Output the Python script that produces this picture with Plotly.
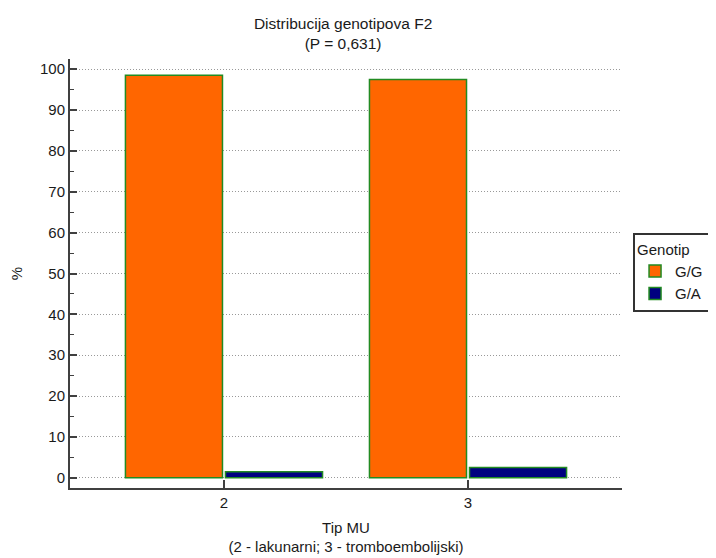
import plotly.graph_objects as go

categories = ["2", "3"]
gg_values = [98.5, 97.5]
ga_values = [1.5, 2.5]
series_names = ["G/G", "G/A"]
y_ticks = [0, 10, 20, 30, 40, 50, 60, 70, 80, 90, 100]

FONT = "Liberation Sans, Arial, sans-serif"
AXIS_COLOR = "#404040"
TXT = "#1a1a1a"
fig = go.Figure()
fig.add_trace(go.Bar(x=categories, y=gg_values, name=series_names[0],
                     marker=dict(color="#FF6600", line=dict(color="#228B22", width=1.5))))
fig.add_trace(go.Bar(x=categories, y=ga_values, name=series_names[1],
                     marker=dict(color="#000080", line=dict(color="#228B22", width=1.5))))

fig.update_layout(
    width=716, height=558,
    margin=dict(l=62, r=102, t=51, b=78, autoexpand=False),
    paper_bgcolor="white", plot_bgcolor="white",
    font=dict(family=FONT, size=15, color=TXT),
    barmode="group", bargap=0.18, bargroupgap=0.03,
    title=dict(text="Distribucija genotipova F2<br>(P = 0,631)", x=0.468, xanchor="center",
               y=1 - 21 / 558, yanchor="middle", font=dict(size=15.5, family=FONT, color=TXT)),
    legend=dict(title=dict(text="Genotip", font=dict(size=15)), x=1.02, xanchor="left",
                y=0.594, yanchor="top", bordercolor="#333333", borderwidth=2,
                bgcolor="white", font=dict(size=15), tracegroupgap=0,
                itemwidth=30),
    showlegend=True,
)
fig.update_xaxes(
    type="category", range=[-0.631, 1.631],
    showline=True, linecolor=AXIS_COLOR, linewidth=2,
    ticks="inside", ticklen=8, tickwidth=2, tickcolor=AXIS_COLOR,
    showgrid=False, zeroline=False,
    title=dict(text="Tip MU<br>(2 - lakunarni; 3 - tromboembolijski)", standoff=12,
               font=dict(size=15)),
)
fig.update_yaxes(
    range=[-2.5, 102.5], tickvals=y_ticks,
    showline=True, linecolor=AXIS_COLOR, linewidth=2,
    ticks="inside", ticklen=7, tickwidth=2, tickcolor=AXIS_COLOR,
    minor=dict(dtick=5, tick0=0, ticks="inside", ticklen=4, tickwidth=1, tickcolor=AXIS_COLOR, showgrid=False),
    showgrid=True, gridcolor="#999999", griddash="1px,2px", gridwidth=1,
    zeroline=False,
    title=dict(text="%", standoff=16, font=dict(size=15)),
)
fig.write_html("out.html")
